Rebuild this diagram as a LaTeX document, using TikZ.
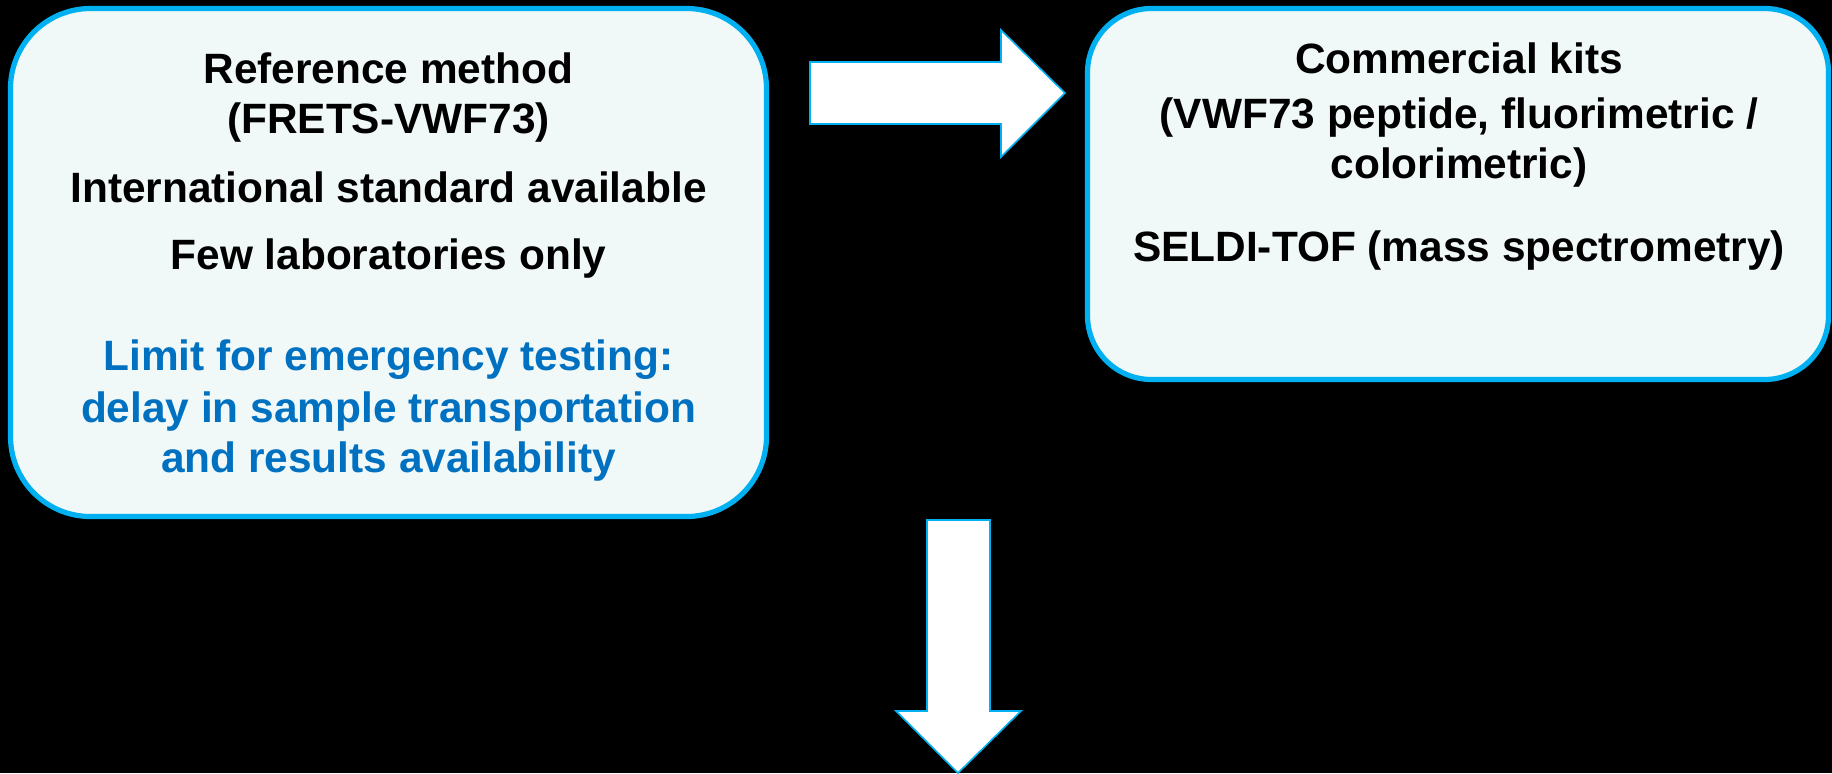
\documentclass[tikz,border=0pt]{standalone}
\usepackage{fontspec}
\setmainfont{Liberation Sans}
\usetikzlibrary{positioning}
\definecolor{skyborder}{RGB}{0,176,240}
\definecolor{paleaqua}{RGB}{240,248,248}
\definecolor{noteblue}{RGB}{0,112,192}

\begin{document}
\begin{tikzpicture}[x=0.5pt, y=-0.5pt,
        panel/.style={rectangle, draw=skyborder, fill=paleaqua, line width=2.6pt},
        paneltext/.style={align=center, inner sep=0pt, anchor=base,
                          font=\fontsize{21.2}{25}\selectfont\bfseries},
        blockarrow/.style={draw=skyborder, fill=white, line width=0.8pt, line join=miter}
    ]
        \fill [black] (0,0) rectangle (1832,773);
        \useasboundingbox (0,0) rectangle (1832,773);
        % the two panels
        \node [panel, minimum width=378pt, minimum height=254pt, rounded corners=40pt] (refbox) at (388.5,262.5) {};
        \node [panel, minimum width=370.5pt, minimum height=185.5pt, rounded corners=32pt] (kitbox) at (1458,194) {};
        % texts, placed on the baseline of their last line
        \node [paneltext] (reftext) at (388.5,472) {Reference method\\(FRETS-VWF73)\\[9.5pt]
            International standard available\\[8.5pt]
            Few laboratories only\\[25.5pt]
            \textcolor{noteblue}{Limit for emergency testing:}\\[1pt]
            \textcolor{noteblue}{delay in sample transportation}\\
            \textcolor{noteblue}{and results availability}};
        \node [paneltext] (kittext) at (1459,261) {Commercial kits\\[2.5pt]
            (VWF73 peptide, fluorimetric /\\
            colorimetric)\\[16.5pt]
            SELDI-TOF (mass spectrometry)};
        % block arrows
        \draw [blockarrow] (810,62) -- (1001,62) -- (1001,30) -- (1065,93) -- (1001,157) -- (1001,124) -- (810,124) -- cycle;
        \draw [blockarrow] (927,520) -- (990,520) -- (990,711) -- (1021,711) -- (958,773) -- (896,711) -- (927,711) -- cycle;
    \end{tikzpicture}
\end{document}
